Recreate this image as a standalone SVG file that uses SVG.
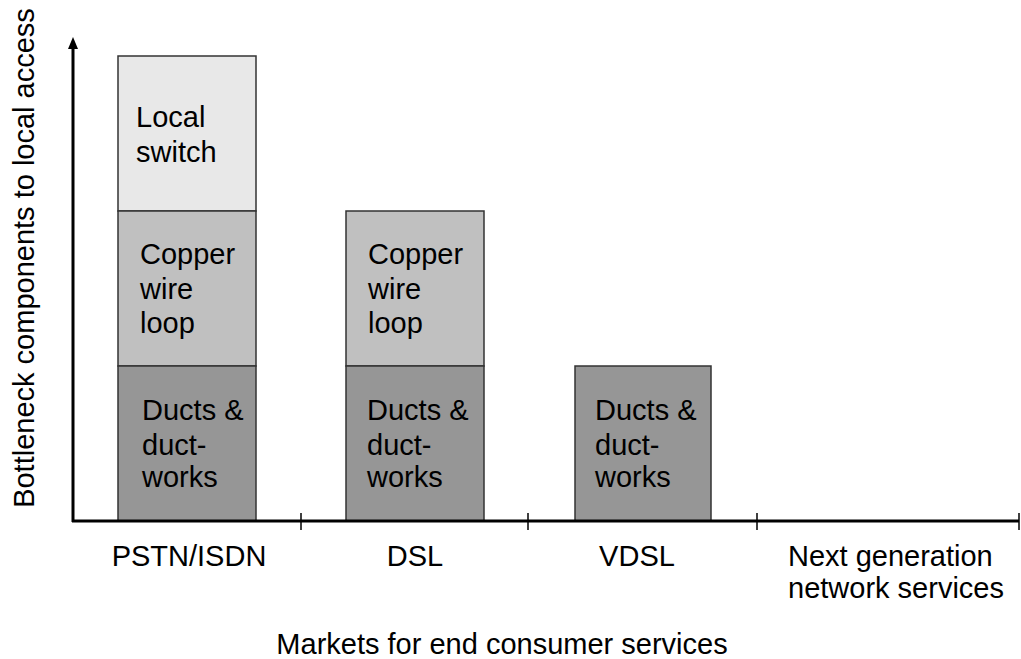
<svg xmlns="http://www.w3.org/2000/svg" width="1021" height="659" viewBox="0 0 1021 659">
<style>
text{font-family:"Liberation Sans",Arial,sans-serif;font-size:29px;fill:#000}
.bar{stroke:#333;stroke-width:1.5}
.l{fill:#e8e8e8}.m{fill:#c0c0c0}.d{fill:#969696}
.ax{stroke:#000;stroke-width:3;fill:none}
.tk{stroke:#000;stroke-width:1.5}
</style>
<rect width="1021" height="659" fill="#fff"/>
<g id="pstn">
<rect class="bar l" x="118" y="56" width="138" height="155"/>
<rect class="bar m" x="118" y="211" width="138" height="155"/>
<rect class="bar d" x="118" y="366" width="138" height="155"/>
<text x="136" y="127">Local</text><text x="136" y="162">switch</text>
<text x="140" y="264">Copper</text><text x="140" y="299">wire</text><text x="140" y="333">loop</text>
<text x="142" y="420">Ducts &amp;</text><text x="142" y="455">duct-</text><text x="142" y="487">works</text>
</g>
<g id="dsl">
<rect class="bar m" x="346" y="211" width="138" height="155"/>
<rect class="bar d" x="346" y="366" width="138" height="155"/>
<text x="368" y="264">Copper</text><text x="368" y="299">wire</text><text x="368" y="333">loop</text>
<text x="367" y="420">Ducts &amp;</text><text x="367" y="455">duct-</text><text x="367" y="487">works</text>
</g>
<g id="vdsl">
<rect class="bar d" x="575" y="366" width="136" height="155"/>
<text x="595" y="420">Ducts &amp;</text><text x="595" y="455">duct-</text><text x="595" y="487">works</text>
</g>
<g id="axes">
<line class="ax" x1="73" y1="522" x2="73" y2="46"/>
<polygon points="73,37 68,49 78,49" fill="#000"/>
<line class="ax" x1="72" y1="521" x2="1019" y2="521"/>
<line class="tk" x1="301" y1="513" x2="301" y2="530"/>
<line class="tk" x1="528" y1="513" x2="528" y2="530"/>
<line class="tk" x1="757" y1="513" x2="757" y2="530"/>
<line class="tk" x1="1019" y1="513" x2="1019" y2="530"/>
</g>
<g id="labels">
<text x="189" y="566" text-anchor="middle">PSTN/ISDN</text>
<text x="415" y="566" text-anchor="middle">DSL</text>
<text x="637" y="566" text-anchor="middle">VDSL</text>
<text x="788" y="566">Next generation</text>
<text x="788" y="598">network services</text>
<text x="502" y="654" text-anchor="middle">Markets for end consumer services</text>
<text transform="translate(34,258) rotate(-90)" text-anchor="middle">Bottleneck components to local access</text>
</g>
</svg>
